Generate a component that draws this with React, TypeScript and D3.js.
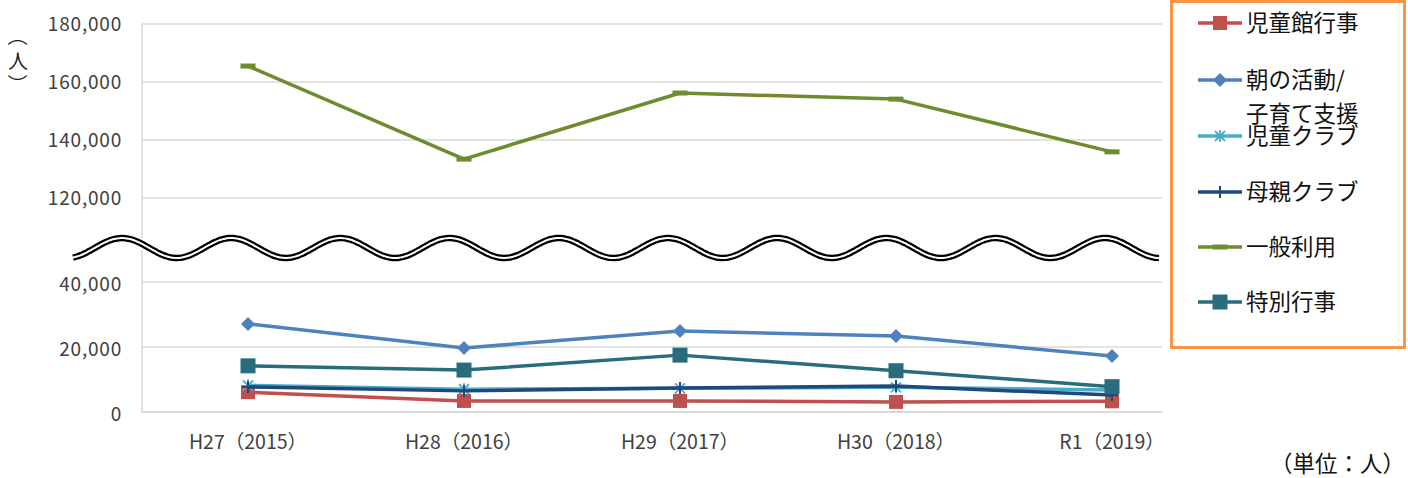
import React from "react";
import * as d3 from "d3";

const categories = ["H27（2015）", "H28（2016）", "H29（2017）", "H30（2018）", "R1（2019）"];
const jidoukanGyoji = [6100, 3400, 3400, 3100, 3300];
const asaKatsudou = [27100, 19700, 24900, 23400, 17200];
const jidouClub = [8200, 7000, 7300, 7600, 6800];
const hahaoyaClub = [7700, 6500, 7400, 8000, 5200];
const ippanRiyou = [165500, 133400, 156200, 154100, 135900];
const tokubetsuGyoji = [14200, 12900, 17500, 12700, 7800];
const topTicks = [120000, 140000, 160000, 180000];
const bottomTicks = [0, 20000, 40000];

type Marker = "square" | "diamond" | "asterisk" | "plus" | "dash" | "bigsquare";
interface Series { name: string[]; values: number[]; color: string; marker: Marker; panel: "top" | "bottom"; }

const series: Series[] = [
  { name: ["児童館行事"], values: jidoukanGyoji, color: "#C0504D", marker: "square", panel: "bottom" },
  { name: ["朝の活動/", "子育て支援"], values: asaKatsudou, color: "#4F81BD", marker: "diamond", panel: "bottom" },
  { name: ["児童クラブ"], values: jidouClub, color: "#4BACC6", marker: "asterisk", panel: "bottom" },
  { name: ["母親クラブ"], values: hahaoyaClub, color: "#1F497D", marker: "plus", panel: "bottom" },
  { name: ["一般利用"], values: ippanRiyou, color: "#6E8B2F", marker: "dash", panel: "top" },
  { name: ["特別行事"], values: tokubetsuGyoji, color: "#286C7D", marker: "bigsquare", panel: "bottom" },
];

const FONT = "'Noto Sans CJK JP', 'Noto Sans', sans-serif";

function MarkerShape({ type, x, y, color }: { type: Marker; x: number; y: number; color: string }) {
  switch (type) {
    case "square":
      return <rect x={x - 7} y={y - 7} width={14} height={14} fill={color} />;
    case "bigsquare":
      return <rect x={x - 7.5} y={y - 7.5} width={15} height={15} fill={color} />;
    case "diamond":
      return <path d={`M${x},${y - 7}L${x + 7},${y}L${x},${y + 7}L${x - 7},${y}Z`} fill={color} />;
    case "asterisk":
      return (
        <g stroke={color} strokeWidth={1.8}>
          <line x1={x - 5} y1={y - 5} x2={x + 5} y2={y + 5} />
          <line x1={x - 5} y1={y + 5} x2={x + 5} y2={y - 5} />
          <line x1={x} y1={y - 6} x2={x} y2={y + 6} />
        </g>
      );
    case "plus":
      return (
        <g stroke={color} strokeWidth={2}>
          <line x1={x} y1={y - 6} x2={x} y2={y + 6} />
          <line x1={x - 6} y1={y} x2={x + 6} y2={y} />
        </g>
      );
    case "dash":
      return <rect x={x - 7.5} y={y - 2.5} width={15} height={5} fill={color} />;
  }
}

export default function App() {
  const W = 1408, H = 478;
  const x = d3.scalePoint<string>().domain(categories).range([248, 1112]);
  const yTop = d3.scaleLinear().domain([120000, 180000]).range([198, 24]);
  const yBot = d3.scaleLinear().domain([0, 40000]).range([412, 282]);
  const plotL = 142, plotR = 1162;
  const fmt = d3.format(",");

  // decorative break wave
  const waveC = 248, waveA = 10, waveP = 109.2, waveX0 = 73, waveX1 = 1160, peakX = 122;
  const wavePts = d3.range(waveX0, waveX1 + 0.5, 2).map((px) => [px, waveC - waveA * Math.cos((2 * Math.PI * (px - peakX)) / waveP)] as [number, number]);
  const wavePath = d3.line().curve(d3.curveBasis)(wavePts) || "";

  const legendRows = [23, 80, 136, 192, 247, 302];

  return (
    <svg width={W} height={H} style={{ position: "absolute", left: 0, top: 0, background: "#fff" }} fontFamily={FONT}>
      <rect width={W} height={H} fill="#fff" />
      {/* gridlines */}
      {topTicks.map((t) => (
        <line key={"gt" + t} x1={plotL} x2={plotR} y1={yTop(t)} y2={yTop(t)} stroke="#d9d9d9" strokeWidth={1.5} />
      ))}
      {bottomTicks.map((t) => (
        <line key={"gb" + t} x1={plotL} x2={plotR} y1={yBot(t)} y2={yBot(t)} stroke="#d9d9d9" strokeWidth={t === 0 ? 2 : 1.5} />
      ))}
      <line x1={plotL} x2={plotL} y1={yTop(180000)} y2={yBot(0)} stroke="#d9d9d9" strokeWidth={1.5} />

      {/* y tick labels */}
      {topTicks.map((t) => (
        <text key={"lt" + t} x={122} y={yTop(t) - 2} textAnchor="end" dominantBaseline="central" fontSize={19} letterSpacing={0.8} fill="#404040">{fmt(t)}</text>
      ))}
      {bottomTicks.map((t) => (
        <text key={"lb" + t} x={122} y={yBot(t)} textAnchor="end" dominantBaseline="central" fontSize={19} letterSpacing={0.8} fill="#404040">{fmt(t)}</text>
      ))}

      {/* y axis title (vertical) */}
      <g fontSize={20} fill="#222">
        <text x={18} y={36} textAnchor="middle" dominantBaseline="central" transform="rotate(90 18 36)">（</text>
        <text x={18} y={60} textAnchor="middle" dominantBaseline="central">人</text>
        <text x={18} y={84} textAnchor="middle" dominantBaseline="central" transform="rotate(90 18 84)">）</text>
      </g>

      {/* x labels */}
      {categories.map((c) => (
        <text key={c} x={x(c)} y={440} textAnchor="middle" dominantBaseline="central" fontSize={19.5} fill="#404040">{c}</text>
      ))}

      {/* series */}
      {series.map((s) => {
        const ys = s.panel === "top" ? yTop : yBot;
        const pts = s.values.map((v, i) => [x(categories[i])!, ys(v)] as [number, number]);
        const path = d3.line()(pts) || "";
        return (
          <g key={s.name.join("")}>
            <path d={path} fill="none" stroke={s.color} strokeWidth={3.5} strokeLinejoin="round" />
            {pts.map((p, i) => (
              <MarkerShape key={i} type={s.marker} x={p[0]} y={p[1]} color={s.color} />
            ))}
          </g>
        );
      })}

      {/* break wave */}
      <path d={wavePath} fill="none" stroke="#fff" strokeWidth={10} />
      <path d={wavePath} fill="none" stroke="#000" strokeWidth={6.5} />
      <path d={wavePath} fill="none" stroke="#fff" strokeWidth={2} />

      {/* legend */}
      <rect x={1171.5} y={1.5} width={233} height={346} fill="#fff" stroke="#F79646" strokeWidth={3} />
      {series.map((s, i) => {
        const ly = legendRows[i];
        return (
          <g key={"lg" + i}>
            <line x1={1198} x2={1242} y1={ly} y2={ly} stroke={s.color} strokeWidth={3.5} />
            <MarkerShape type={s.marker} x={1220} y={ly} color={s.color} />
            {s.name.map((n, j) => (
              <text key={j} x={1246} y={ly - 2 + j * 34} dominantBaseline="central" fontSize={22.5} fill="#111">{n}</text>
            ))}
          </g>
        );
      })}

      {/* unit */}
      <text x={1405} y={462} textAnchor="end" dominantBaseline="central" fontSize={22.5} fill="#111">（単位：人）</text>
    </svg>
  );
}
